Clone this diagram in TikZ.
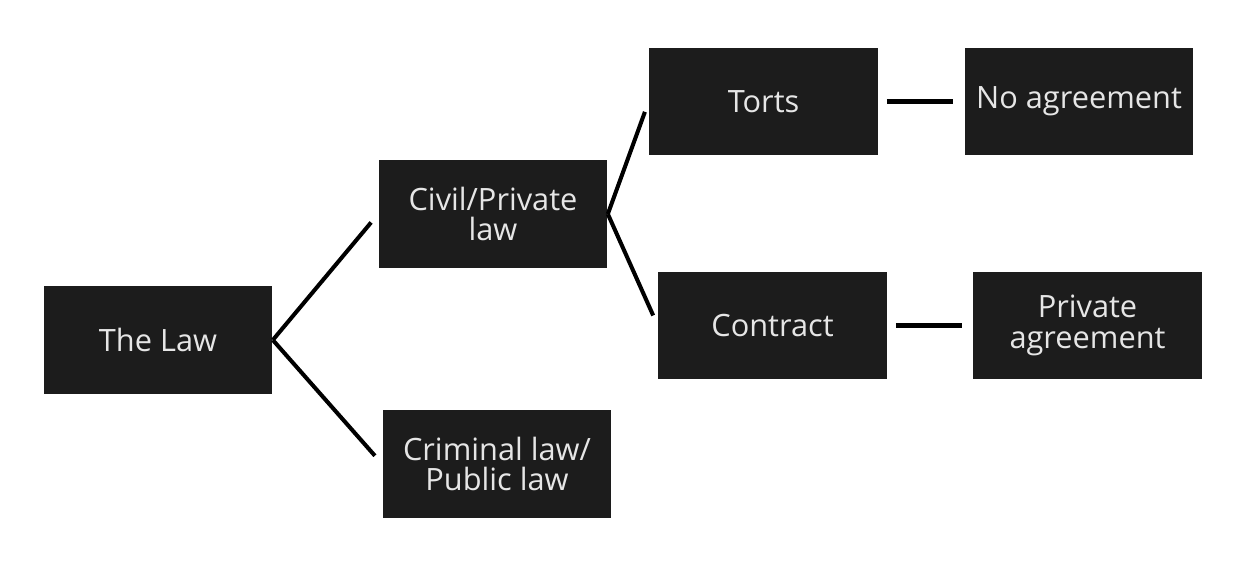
\documentclass[tikz,border=0pt]{standalone}
\usepackage{fontspec}
\setmainfont{Open Sans}
\usepackage{xcolor}
\usepackage{tikz}
\usetikzlibrary{positioning, calc}

\definecolor{boxfill}{HTML}{1C1C1C}
\definecolor{boxtext}{HTML}{E6E6E6}

\begin{document}
\begin{tikzpicture}[
    x=0.02cm, y=-0.02cm,
    lawbox/.style={rectangle, fill=boxfill, text=boxtext, inner sep=0pt,
        minimum width=4.58cm, minimum height=2.16cm, align=center,
        font=\fontsize{17.5}{17.5}\selectfont},
    branch/.style={draw=black, line width=2.3pt, shorten >=0.22cm},
    link/.style={draw=black, line width=3pt, shorten <=0.17cm, shorten >=0.22cm}
]
\useasboundingbox (0,0) rectangle (1244,565);

\node[lawbox] (law) at (158,340) {The Law};

\node[lawbox] (civil) at (493,214) {Civil/Private\\law};
\node[lawbox] (crim) at (497,464) {Criminal law/\\Public law};

\node[lawbox] (torts) at (763.5,101.5) {Torts};
\node[lawbox] (contract) at (772.5,325.5) {Contract};

\node[lawbox] (noagr) at (1079,101.5) {No agreement};
\node[lawbox] (privagr) at (1087.5,325.5) {Private\\agreement};

% branches
\draw[branch] (law.east) -- (civil.west);
\draw[branch] (law.east) -- (crim.west);
\draw[branch] (civil.east) -- (torts.west);
\draw[branch] (civil.east) -- (contract.west);

% links
\draw[link] (torts.east) -- (noagr.west);
\draw[link] (contract.east) -- (privagr.west);
\end{tikzpicture}
\end{document}
